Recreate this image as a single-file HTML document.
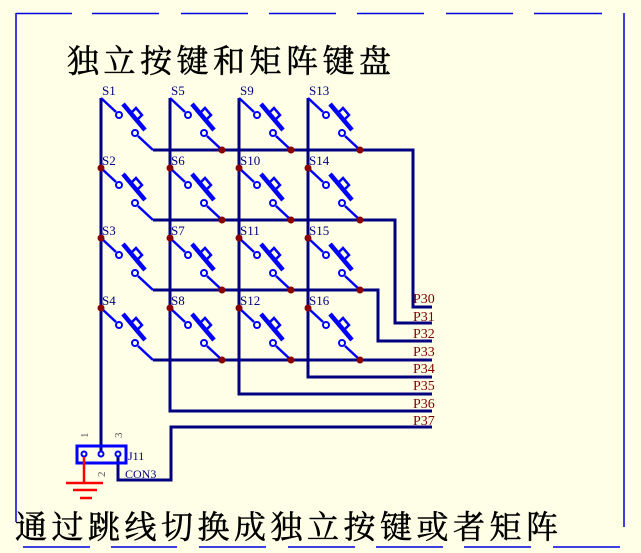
<!DOCTYPE html>
<html><head><meta charset="utf-8"><style>
html,body{margin:0;padding:0;background:#ffffe8;}
svg{display:block;}
</style></head><body>
<svg width="641" height="553" viewBox="0 0 641 553" xmlns="http://www.w3.org/2000/svg">
<rect width="641" height="553" fill="#ffffe8"/>
<!-- frame -->
<g stroke="#0000e0" stroke-width="1.5" fill="none">
<line x1="16" y1="13.5" x2="72" y2="13.5"/><line x1="92" y1="13.5" x2="159" y2="13.5"/>
<line x1="181" y1="13.5" x2="248" y2="13.5"/><line x1="269" y1="13.5" x2="336" y2="13.5"/>
<line x1="357" y1="13.5" x2="424" y2="13.5"/><line x1="446" y1="13.5" x2="513" y2="13.5"/>
<line x1="534" y1="13.5" x2="602" y2="13.5"/>
<line x1="16" y1="13" x2="16" y2="522"/>
<line x1="624" y1="13" x2="624" y2="527"/>
<line x1="23" y1="547" x2="90" y2="547"/><line x1="111" y1="547" x2="177" y2="547"/>
<line x1="199" y1="547" x2="266" y2="547"/><line x1="288" y1="547" x2="355" y2="547"/>
<line x1="376" y1="547" x2="443" y2="547"/><line x1="464" y1="547" x2="531" y2="547"/>
<line x1="553" y1="547" x2="620" y2="547"/>
</g>
<text x="67" y="72" font-family="'Liberation Serif','Noto Serif CJK SC',serif" font-size="32" stroke="#000" stroke-width="0.5" letter-spacing="4.5" fill="#000">独立按键和矩阵键盘</text>
<text x="15" y="538" font-family="'Liberation Serif','Noto Serif CJK SC',serif" font-size="32" stroke="#000" stroke-width="0.5" letter-spacing="4.5" fill="#000">通过跳线切换成独立按键或者矩阵</text>

<!-- wires -->
<g stroke="#000080" stroke-width="3" fill="none">
<line x1="101" y1="98" x2="101" y2="453"/>
<polyline points="170,98 170,411 432,411"/>
<polyline points="239,98 239,394 432,394"/>
<polyline points="308,98 308,377 432,377"/>
<polyline points="153,150 413,150 413,307 432,307"/>
<polyline points="153,220 395,220 395,323 432,323"/>
<polyline points="153,290 378,290 378,341 432,341"/>
<polyline points="153,360 432,360"/>
<polyline points="432,427 171,427 171,480 118,480 118,453"/>
</g>

<!-- switches -->
<defs>
<g id="sw" stroke="#0000ff" fill="none">
<line x1="0" y1="0" x2="15" y2="14" stroke-width="2.5"/>
<circle cx="18" cy="17" r="3" stroke-width="2"/>
<line x1="22" y1="6" x2="44" y2="32" stroke-width="4.5"/>
<path d="M30 15 L35 10 L41 17 L36 22" stroke-width="2.5"/>
<circle cx="34" cy="35" r="3" stroke-width="2"/>
<line x1="37" y1="38" x2="52" y2="52" stroke-width="2.5"/>
</g>
</defs>
<g>
<use href="#sw" x="101" y="98"/><use href="#sw" x="170" y="98"/><use href="#sw" x="239" y="98"/><use href="#sw" x="308" y="98"/>
<use href="#sw" x="101" y="168"/><use href="#sw" x="170" y="168"/><use href="#sw" x="239" y="168"/><use href="#sw" x="308" y="168"/>
<use href="#sw" x="101" y="238"/><use href="#sw" x="170" y="238"/><use href="#sw" x="239" y="238"/><use href="#sw" x="308" y="238"/>
<use href="#sw" x="101" y="308"/><use href="#sw" x="170" y="308"/><use href="#sw" x="239" y="308"/><use href="#sw" x="308" y="308"/>
</g>

<!-- dots -->
<g fill="#8b0000">
<circle cx="101" cy="168" r="3.5"/><circle cx="170" cy="168" r="3.5"/><circle cx="239" cy="168" r="3.5"/><circle cx="308" cy="168" r="3.5"/>
<circle cx="101" cy="238" r="3.5"/><circle cx="170" cy="238" r="3.5"/><circle cx="239" cy="238" r="3.5"/><circle cx="308" cy="238" r="3.5"/>
<circle cx="101" cy="308" r="3.5"/><circle cx="170" cy="308" r="3.5"/><circle cx="239" cy="308" r="3.5"/><circle cx="308" cy="308" r="3.5"/>
<circle cx="222" cy="150" r="3.5"/><circle cx="291" cy="150" r="3.5"/><circle cx="360" cy="150" r="3.5"/>
<circle cx="222" cy="220" r="3.5"/><circle cx="291" cy="220" r="3.5"/><circle cx="360" cy="220" r="3.5"/>
<circle cx="222" cy="290" r="3.5"/><circle cx="291" cy="290" r="3.5"/><circle cx="360" cy="290" r="3.5"/>
<circle cx="222" cy="360" r="3.5"/><circle cx="291" cy="360" r="3.5"/><circle cx="360" cy="360" r="3.5"/>
</g>

<!-- switch labels -->
<g font-family="'Liberation Serif',serif" font-size="13" fill="#000080">
<text x="102" y="95">S1</text><text x="171" y="95">S5</text><text x="240" y="95">S9</text><text x="309" y="95">S13</text>
<text x="102" y="165">S2</text><text x="171" y="165">S6</text><text x="240" y="165">S10</text><text x="309" y="165">S14</text>
<text x="102" y="235">S3</text><text x="171" y="235">S7</text><text x="240" y="235">S11</text><text x="309" y="235">S15</text>
<text x="102" y="305">S4</text><text x="171" y="305">S8</text><text x="240" y="305">S12</text><text x="309" y="305">S16</text>
</g>
<g font-family="'Liberation Serif',serif" font-size="14" fill="#800000">
<text x="413" y="303">P30</text><text x="413" y="321">P31</text><text x="413" y="338">P32</text><text x="413" y="356">P33</text>
<text x="413" y="373">P34</text><text x="413" y="390">P35</text><text x="413" y="408">P36</text><text x="413" y="425">P37</text>
</g>

<!-- connector -->
<rect x="77" y="446" width="49" height="17" fill="none" stroke="#0000ff" stroke-width="3"/>
<g stroke="#0000ff" stroke-width="2" fill="#ffffe8">
<circle cx="84" cy="454" r="2.5"/><circle cx="101" cy="454" r="2.5"/><circle cx="118" cy="454" r="2.5"/>
</g>
<g stroke="#ff0000" stroke-width="2.5">
<line x1="84" y1="457" x2="84" y2="483"/>
<line x1="66" y1="483" x2="103" y2="483"/>
<line x1="73" y1="490" x2="97" y2="490"/>
<line x1="80" y1="498" x2="92" y2="498"/>
</g>
<g font-family="'Liberation Serif',serif" font-size="12" fill="#000080">
<text x="128" y="460">J11</text><text x="125" y="478">CON3</text>
</g>
<g font-family="'Liberation Serif',serif" font-size="11" fill="#555">
<text transform="translate(88,438) rotate(-90)">1</text>
<text transform="translate(122,438) rotate(-90)">3</text>
<text transform="translate(105,477) rotate(-90)">2</text>
</g>
</svg>
</body></html>
